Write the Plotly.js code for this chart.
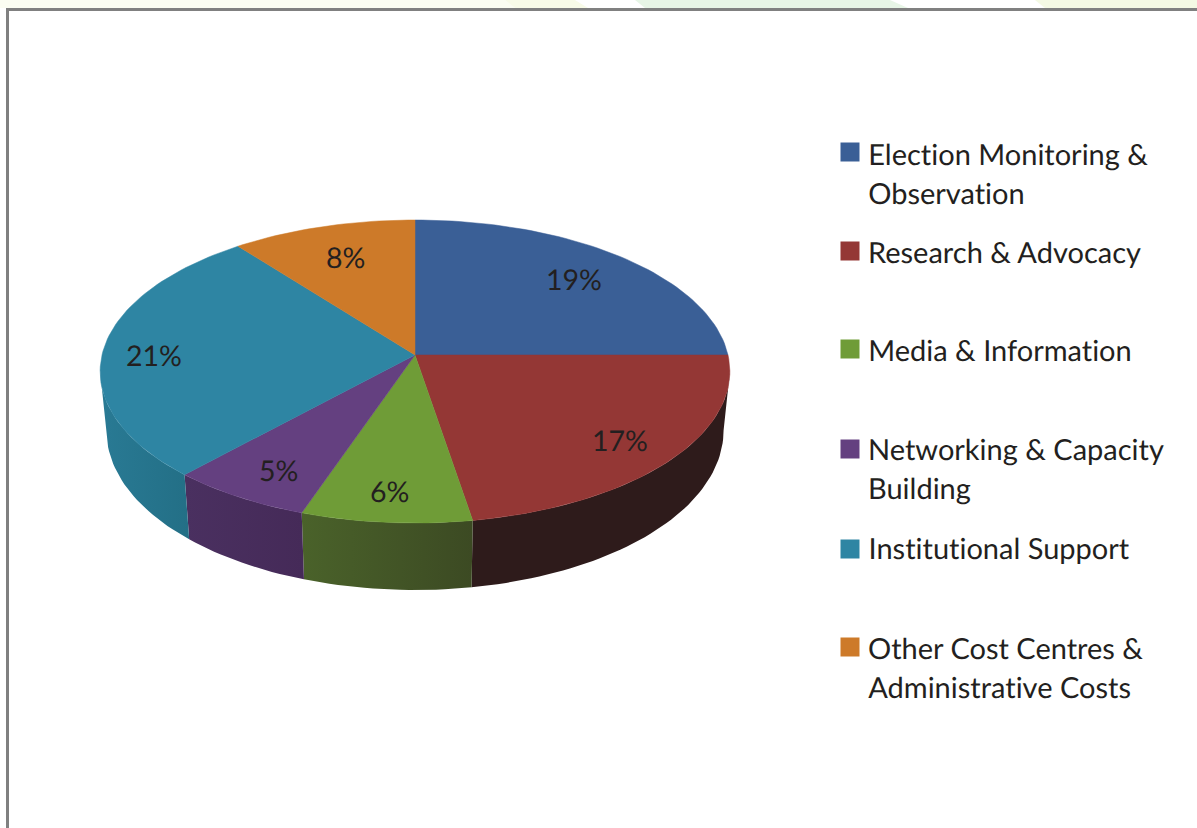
<!DOCTYPE html>
<html><head><meta charset="utf-8">
<script src="https://cdn.plot.ly/plotly-3.0.1.min.js"></script>
<style>html,body{margin:0;padding:0;background:#fff}#c{width:1197px;height:828px}#c svg text{font-variant-ligatures:none !important;font-feature-settings:"liga" 0,"clig" 0,"dlig" 0 !important;text-rendering:geometricPrecision}</style>
</head><body><div id="c"></div>
<script>
// data
const categories = ["Election Monitoring &<br>Observation","Research & Advocacy","Media & Information","Networking & Capacity<br>Building","Institutional Support","Other Cost Centres &<br>Administrative Costs"];
const values = [19,17,6,5,21,8];
// styles
const topColors = ["#3a5f96","#943735","#6f9c37","#644080","#2e85a3","#cd7a29"];
const wallColors = [["#2c1b1b","#2c1b1b"],["#2e1b1b","#2e1b1b"],["#4a622a","#3c4a23"],["#4a3060","#452a58"],["#297a94","#236f86"],["#8a5018","#8a5018"]];
const legendY = [152,251,349,449,549,647];
const legendTextY = [153,251,349,448,547,647];
const labelR = [0.77,0.80,0.80,0.79,0.83,0.77];
const labelDx = [-2,3,-3,0,-2,3];
const labelDy = [1,3,5,5,5,3];
// geometry of the tilted disc
const cx=415, cy=355, a=313, b=149.7, k=0.1089, depth0=58, depth1=9, shrink=0.98;
const FONT='Lato, "Open Sans", sans-serif';
const total = values.reduce((s,v)=>s+v,0);
function proj(deg,r){r=r===undefined?1:r;const t=deg*Math.PI/180,u=r*Math.sin(t),v=-r*Math.cos(t),w=1-k*v;return [cx+a*u/w,cy+b*v/w,v];}
function arc(d0,d1){const n=Math.max(2,Math.ceil(Math.abs(d1-d0)/1.5));const p=[];for(let i=0;i<=n;i++)p.push(proj(d0+(d1-d0)*i/n));return p;}
function bottom(p){return [cx+(p[0]-cx)*shrink,p[1]+depth0+depth1*p[2]];}
const wallStart=96.3, wallEnd=263.7;
let traces=[], ang=0, anns=[];
const slices=values.map(v=>{const s=ang;ang+=v/total*360;return [s,ang];});
// walls
slices.forEach(([s,e],i)=>{
  const d0=Math.max(s,wallStart), d1=Math.min(e,wallEnd);
  if(d1<=d0) return;
  const t=arc(d0,d1), bt=t.map(bottom).reverse();
  const xs=t.map(p=>p[0]).concat(bt.map(p=>p[0])), ys=t.map(p=>p[1]).concat(bt.map(p=>p[1]));
  xs.push(xs[0]);ys.push(ys[0]);
  traces.push({type:'scatter',mode:'lines',x:xs,y:ys,fill:'toself',
    fillgradient:{type:'horizontal',colorscale:[[0,wallColors[i][0]],[1,wallColors[i][1]]]},
    line:{color:wallColors[i][1],width:0},hoverinfo:'skip',showlegend:false});
});
// top faces
slices.forEach(([s,e],i)=>{
  const t=arc(s,e);
  const xs=[cx].concat(t.map(p=>p[0]),[cx]), ys=[cy].concat(t.map(p=>p[1]),[cy]);
  traces.push({type:'scatter',mode:'lines',x:xs,y:ys,fill:'toself',fillcolor:topColors[i],line:{color:topColors[i],width:0.5},name:categories[i].replace('<br>',' '),hoverinfo:'name',showlegend:false});
  const m=proj((s+e)/2,labelR[i]);
  anns.push({x:m[0]+labelDx[i],y:m[1]+labelDy[i],xref:'x',yref:'y',text:values[i]+'%',showarrow:false,font:{family:FONT,size:28.5,color:'#231f20'},xanchor:'center',yanchor:'middle'});
});
// legend swatches and text
traces.push({type:'scatter',mode:'markers',x:categories.map(()=>850),y:legendY,marker:{symbol:'square',size:19,color:topColors,line:{width:0}},hoverinfo:'skip',showlegend:false});
categories.forEach((c,i)=>{
  c.split('<br>').forEach((ln,j)=>{
    anns.push({x:868,y:legendTextY[i]+j*39,xref:'x',yref:'y',text:ln.replace(/&/g,'&amp;'),showarrow:false,font:{family:FONT,size:29,color:'#231f20'},xanchor:'left',yanchor:'middle',xshift:-2});
  });
});
const deco=[
 {c:'#fbfdf2',p:[[0,0],[505,0],[515,8],[0,8]]},
 {c:'#f8fbe8',p:[[505,0],[575,0],[588,8],[515,8]]},
 {c:'#e7f5e6',p:[[635,0],[890,0],[908,8],[645,8]]},
 {c:'#f4f9e4',p:[[1035,0],[1197,0],[1197,8],[1045,8]]}
];
const shapes=deco.map(d=>({type:'path',xref:'x',yref:'y',layer:'below',line:{width:0},fillcolor:d.c,path:'M'+d.p.map(q=>q.join(',')).join('L')+'Z'}));
shapes.push({type:'line',xref:'x',yref:'y',x0:6,x1:1197,y0:9.5,y1:9.5,line:{color:'#808080',width:3}});
shapes.push({type:'line',xref:'x',yref:'y',x0:7.5,x1:7.5,y0:8,y1:828,line:{color:'#808080',width:3}});
Plotly.newPlot('c',traces,{
  width:1197,height:828,margin:{l:0,r:0,t:0,b:0},paper_bgcolor:'#fff',plot_bgcolor:'#fff',showlegend:false,
  xaxis:{range:[0,1197],visible:false,fixedrange:true},
  yaxis:{range:[828,0],visible:false,fixedrange:true},
  annotations:anns,shapes:shapes
},{displayModeBar:false,responsive:false});
</script></body></html>
